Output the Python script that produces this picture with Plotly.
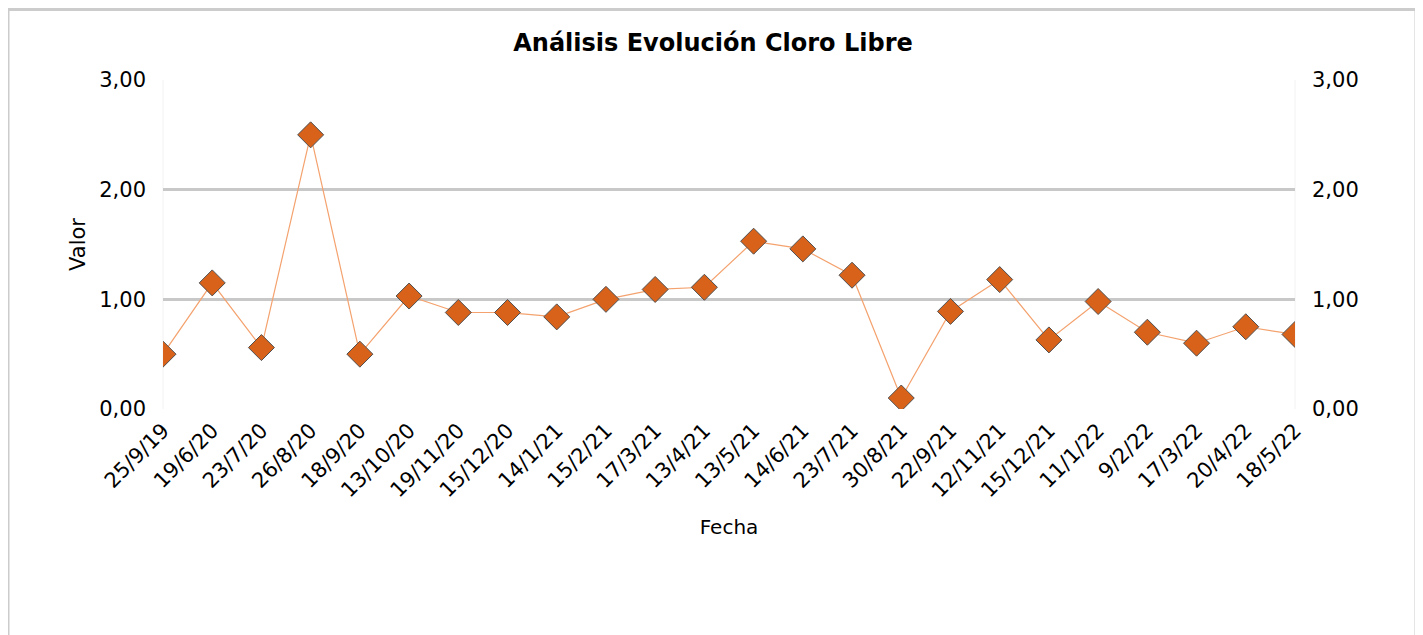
import plotly.graph_objects as go

fechas = ["25/9/19", "19/6/20", "23/7/20", "26/8/20", "18/9/20", "13/10/20", "19/11/20",
          "15/12/20", "14/1/21", "15/2/21", "17/3/21", "13/4/21", "13/5/21", "14/6/21",
          "23/7/21", "30/8/21", "22/9/21", "12/11/21", "15/12/21", "11/1/22", "9/2/22",
          "17/3/22", "20/4/22", "18/5/22"]
valores = [0.50, 1.15, 0.56, 2.50, 0.50, 1.03, 0.88, 0.88, 0.84, 1.00, 1.09, 1.11,
           1.53, 1.46, 1.22, 0.10, 0.89, 1.18, 0.63, 0.98, 0.70, 0.60, 0.75, 0.68]
y_ticks = [0, 1, 2, 3]

FONT = "DejaVu Sans"
W, H = 1423, 635
OFF = 8  # page body margin offset
PL, PR, PT, PB = 163 - OFF, 1295 - OFF, 80 - OFF, 409 - OFF
PW, PH = PR - PL, PB - PT

fig = go.Figure()
fig.add_trace(go.Scatter(
    x=fechas, y=valores, mode="lines+markers",
    line=dict(color="#F4A26E", width=1.2),
    marker=dict(symbol="diamond", size=20, color="#D9621B",
                line=dict(color="#505050", width=1)),
    cliponaxis=True, showlegend=False, name="Cloro Libre",
))
fig.add_trace(go.Scatter(
    x=fechas, y=valores, mode="lines", yaxis="y2",
    line=dict(width=0, color="rgba(0,0,0,0)"), hoverinfo="skip", showlegend=False,
))

fig.update_layout(
    width=W, height=H,
    margin=dict(l=PL, r=W - PR, t=PT, b=H - PB),
    paper_bgcolor="white", plot_bgcolor="white",
    separators=",.",
    font=dict(family=FONT, size=21, color="#000000"),
    title=dict(text="<b>Análisis Evolución Cloro Libre</b>", x=(713 - OFF) / W, xref="container",
               xanchor="center", y=1 - (43 - OFF) / H, yref="container", yanchor="middle",
               font=dict(family=FONT, size=24, color="#000000")),
    xaxis=dict(type="category", range=[0, len(fechas) - 1], tickangle=-45,
               showgrid=False, zeroline=False, showline=False, ticks="",
               ticklabelstandoff=4,
               tickfont=dict(family=FONT, size=21),
               title=dict(text="Fecha", font=dict(family=FONT, size=20), standoff=18)),
    yaxis=dict(range=[0, 3], tickvals=y_ticks, tickformat=".2f",
               showgrid=True, gridcolor="#C8C8C8", gridwidth=3, zeroline=False,
               showline=False, ticks="", ticklabelstandoff=16,
               tickfont=dict(family=FONT, size=21),
               title=dict(text="Valor", font=dict(family=FONT, size=21), standoff=7)),
    yaxis2=dict(range=[0, 3], tickvals=y_ticks, tickformat=".2f", overlaying="y",
                side="right", showgrid=False, zeroline=False, showline=False, ticks="",
                ticklabelstandoff=16, tickfont=dict(family=FONT, size=21)),
    shapes=[
        dict(type="rect", xref="paper", yref="paper",
             x0=(8 - OFF - PL) / PW, x1=(1416 - OFF - PL) / PW,
             y0=(PB - 700) / PH, y1=(PB - 1.5) / PH,
             line=dict(color="#CCCCCC", width=3), layer="below"),
        dict(type="line", xref="paper", yref="paper", x0=0, x1=0, y0=0, y1=1,
             line=dict(color="#F2F2F2", width=1), layer="below"),
        dict(type="line", xref="paper", yref="paper", x0=1, x1=1, y0=0, y1=1,
             line=dict(color="#F2F2F2", width=1), layer="below"),
    ],
)

fig.write_html("out.html")
